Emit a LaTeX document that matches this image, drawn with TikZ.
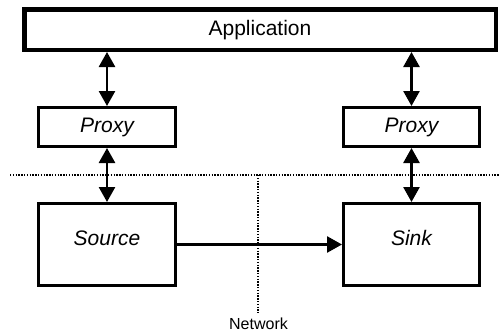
\documentclass[tikz,border=0pt]{standalone}
\usepackage{fontspec}
\setmainfont{Liberation Sans}
\usetikzlibrary{arrows.meta}

\begin{document}
\begin{tikzpicture}[x=1pt,y=-1pt,
    box/.style={draw,line width=2.6pt,inner sep=0pt,text height=15pt,text depth=4.5pt,
                font=\fontsize{21}{25}\selectfont\itshape},
    appbox/.style={draw,line width=4.5pt,inner sep=0pt,text height=15pt,text depth=4pt,
                font=\fontsize{21}{25}\selectfont},
    tip/.tip={Triangle[width=16pt,length=15pt]},
    link/.style={line width=2.6pt,tip-tip},
    flow/.style={line width=2.6pt,-tip},
    dotline/.style={line width=1.3pt,dash pattern=on 1.3pt off 1.5pt}]
  \useasboundingbox (0,0) rectangle (499,332);

  % application layer
  \node[appbox,minimum width=471.5pt,minimum height=40.5pt] (app) at (260,29.5) {Application};

  % proxies
  \node[box,minimum width=137.4pt,minimum height=39.4pt] (proxyL) at (107,127) {Proxy};
  \node[box,minimum width=136.4pt,minimum height=39.4pt] (proxyR) at (411.5,127) {Proxy};

  % endpoints
  \node[box,text depth=14pt,minimum width=137.4pt,minimum height=82.4pt] (source) at (107,244.5) {Source};
  \node[box,text depth=14pt,minimum width=136.4pt,minimum height=82.4pt] (sink) at (411.5,244.5) {Sink};

  % network boundary
  \coordinate (hl) at (10,175);
  \coordinate (hr) at (499,175);
  \coordinate (vt) at (258,175);
  \coordinate (vb) at (258,313);
  \draw[dotline] (hl) -- (hr);
  \draw[dotline] (vt) -- (vb);
  \node[font=\fontsize{16}{19}\selectfont,anchor=base] (net) at (258.5,329) {Network};

  % connectors
  \draw[link] (proxyL.north |- app.south) -- (proxyL.north);
  \draw[link] (proxyR.north |- app.south) -- (proxyR.north);
  \draw[link] (proxyL.south) -- (source.north);
  \draw[link] (proxyR.south) -- (sink.north);
  \draw[flow] (source.east) -- (sink.west);
\end{tikzpicture}
\end{document}
